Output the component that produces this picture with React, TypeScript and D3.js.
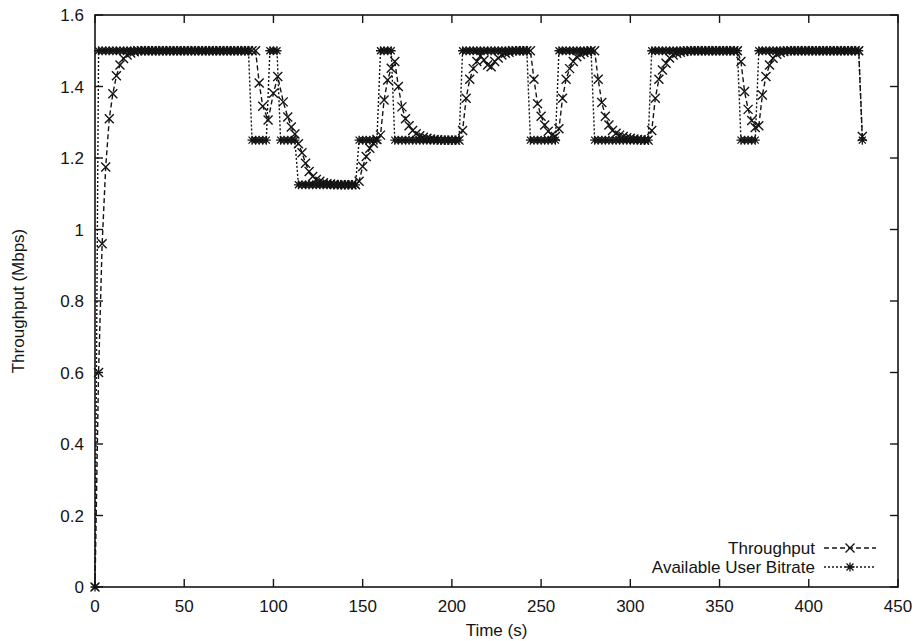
import React from "react";
import * as d3 from "d3";

const xTicks = [0, 50, 100, 150, 200, 250, 300, 350, 400, 450];
const xTickLabels = ["0", "50", "100", "150", "200", "250", "300", "350", "400", "450"];
const yTicks = [0, 0.2, 0.4, 0.6, 0.8, 1.0, 1.2, 1.4, 1.6];
const yTickLabels = ["0", "0.2", "0.4", "0.6", "0.8", "1", "1.2", "1.4", "1.6"];

const seriesNames = ["Throughput", "Available User Bitrate"];

// Available User Bitrate (Mbps), sampled every 2 s from t = 0 to 430
const bitrateTime = [
  0, 2, 4, 6, 8, 10, 12, 14, 16, 18, 20, 22, 24, 26, 28, 30, 32, 34, 36, 38,
  40, 42, 44, 46, 48, 50, 52, 54, 56, 58, 60, 62, 64, 66, 68, 70, 72, 74, 76, 78,
  80, 82, 84, 86, 88, 90, 92, 94, 96, 98, 100, 102, 104, 106, 108, 110, 112, 114, 116, 118,
  120, 122, 124, 126, 128, 130, 132, 134, 136, 138, 140, 142, 144, 146, 148, 150, 152, 154, 156, 158,
  160, 162, 164, 166, 168, 170, 172, 174, 176, 178, 180, 182, 184, 186, 188, 190, 192, 194, 196, 198,
  200, 202, 204, 206, 208, 210, 212, 214, 216, 218, 220, 222, 224, 226, 228, 230, 232, 234, 236, 238,
  240, 242, 244, 246, 248, 250, 252, 254, 256, 258, 260, 262, 264, 266, 268, 270, 272, 274, 276, 278,
  280, 282, 284, 286, 288, 290, 292, 294, 296, 298, 300, 302, 304, 306, 308, 310, 312, 314, 316, 318,
  320, 322, 324, 326, 328, 330, 332, 334, 336, 338, 340, 342, 344, 346, 348, 350, 352, 354, 356, 358,
  360, 362, 364, 366, 368, 370, 372, 374, 376, 378, 380, 382, 384, 386, 388, 390, 392, 394, 396, 398,
  400, 402, 404, 406, 408, 410, 412, 414, 416, 418, 420, 422, 424, 426, 428, 430,
];
const bitrateValue = [
  0,
  // t = 2..86
  1.5, 1.5, 1.5, 1.5, 1.5, 1.5, 1.5, 1.5, 1.5, 1.5,
  1.5, 1.5, 1.5, 1.5, 1.5, 1.5, 1.5, 1.5, 1.5, 1.5,
  1.5, 1.5, 1.5, 1.5, 1.5, 1.5, 1.5, 1.5, 1.5, 1.5,
  1.5, 1.5, 1.5, 1.5, 1.5, 1.5, 1.5, 1.5, 1.5, 1.5,
  1.5, 1.5, 1.5,
  // t = 88..96
  1.25, 1.25, 1.25, 1.25, 1.25,
  // t = 98..102
  1.5, 1.5, 1.5,
  // t = 104..112
  1.25, 1.25, 1.25, 1.25, 1.25,
  // t = 114..146
  1.125, 1.125, 1.125, 1.125, 1.125, 1.125, 1.125, 1.125, 1.125, 1.125,
  1.125, 1.125, 1.125, 1.125, 1.125, 1.125, 1.125,
  // t = 148..158
  1.25, 1.25, 1.25, 1.25, 1.25, 1.25,
  // t = 160..166
  1.5, 1.5, 1.5, 1.5,
  // t = 168..204
  1.25, 1.25, 1.25, 1.25, 1.25, 1.25, 1.25, 1.25, 1.25, 1.25,
  1.25, 1.25, 1.25, 1.25, 1.25, 1.25, 1.25, 1.25, 1.25,
  // t = 206..242
  1.5, 1.5, 1.5, 1.5, 1.5, 1.5, 1.5, 1.5, 1.5, 1.5,
  1.5, 1.5, 1.5, 1.5, 1.5, 1.5, 1.5, 1.5, 1.5,
  // t = 244..258
  1.25, 1.25, 1.25, 1.25, 1.25, 1.25, 1.25, 1.25,
  // t = 260..278
  1.5, 1.5, 1.5, 1.5, 1.5, 1.5, 1.5, 1.5, 1.5, 1.5,
  // t = 280..310
  1.25, 1.25, 1.25, 1.25, 1.25, 1.25, 1.25, 1.25, 1.25, 1.25,
  1.25, 1.25, 1.25, 1.25, 1.25, 1.25,
  // t = 312..360
  1.5, 1.5, 1.5, 1.5, 1.5, 1.5, 1.5, 1.5, 1.5, 1.5,
  1.5, 1.5, 1.5, 1.5, 1.5, 1.5, 1.5, 1.5, 1.5, 1.5,
  1.5, 1.5, 1.5, 1.5, 1.5,
  // t = 362..370
  1.25, 1.25, 1.25, 1.25, 1.25,
  // t = 372..428
  1.5, 1.5, 1.5, 1.5, 1.5, 1.5, 1.5, 1.5, 1.5, 1.5,
  1.5, 1.5, 1.5, 1.5, 1.5, 1.5, 1.5, 1.5, 1.5, 1.5,
  1.5, 1.5, 1.5, 1.5, 1.5, 1.5, 1.5, 1.5, 1.5,
  // t = 430
  1.25,
];

// Measured throughput (Mbps)
const throughputTime = [
  0, 2, 4, 6, 8, 10, 12, 14, 16, 18, 20, 22,
  24, 26, 28, 30, 32, 34, 36, 38, 40, 42, 44, 46, 48, 50, 52, 54, 56, 58, 60, 62, 64, 66,
  68, 70, 72, 74, 76, 78, 80, 82, 84, 86, 88, 90,
  92, 94, 97, 100, 102.4, 105.5, 108, 110, 112, 114, 116, 118, 120, 122, 124, 126, 128, 130, 132, 134,
  136, 138, 140, 142, 144, 146,
  148, 150, 152, 154, 156, 158, 160, 162, 164, 166, 168, 170, 172, 174, 176, 178, 180, 182, 184, 186,
  188, 190, 192, 194, 196, 198, 200, 202, 204,
  206, 208, 210, 212, 214, 216, 218, 220, 222, 224, 226, 228, 230, 232, 234, 236, 238, 240, 242, 244,
  246, 248, 250, 252, 254, 256, 258, 260, 262, 264, 266, 268, 270, 272, 274, 276, 278, 280,
  282, 284, 286, 288, 290, 292, 294, 296, 298, 300, 302, 304, 306, 308, 310,
  312, 314, 316, 318, 320, 322, 324, 326, 328, 330, 332, 334, 336, 338, 340, 342, 344, 346, 348, 350,
  352, 354, 356, 358, 360,
  362, 364, 366, 368, 370, 372, 374, 376, 378, 380, 382, 384, 386, 388, 390, 392, 394, 396, 398, 400,
  402, 404, 406, 408, 410, 412, 414, 416, 418, 420, 422, 424, 426, 428, 430,
];
const throughputValue = [
  0, 0.6, 0.96, 1.175, 1.31, 1.38, 1.43, 1.46, 1.478, 1.488, 1.494, 1.497,
  1.5, 1.5, 1.5, 1.5, 1.5, 1.5, 1.5, 1.5, 1.5, 1.5, 1.5, 1.5, 1.5, 1.5, 1.5, 1.5, 1.5, 1.5, 1.5, 1.5, 1.5, 1.5,
  1.5, 1.5, 1.5, 1.5, 1.5, 1.5, 1.5, 1.5, 1.5, 1.5, 1.5, 1.5,
  1.41, 1.345, 1.306, 1.381, 1.428, 1.357, 1.315, 1.287, 1.267, 1.24, 1.215, 1.185, 1.162, 1.148, 1.14, 1.135,
  1.131, 1.128, 1.127, 1.126,
  1.125, 1.125, 1.125, 1.125, 1.125, 1.125,
  1.135, 1.176, 1.204, 1.227, 1.241, 1.252, 1.264, 1.362, 1.418, 1.451, 1.47, 1.4, 1.343, 1.31, 1.29, 1.277,
  1.268, 1.262, 1.258, 1.255,
  1.253, 1.252, 1.251, 1.25, 1.25, 1.25, 1.25, 1.25, 1.25,
  1.277, 1.367, 1.42, 1.45, 1.47, 1.485, 1.474, 1.46, 1.455, 1.47, 1.48, 1.488, 1.493, 1.496, 1.5, 1.5,
  1.5, 1.5, 1.5, 1.5,
  1.42, 1.352, 1.317, 1.292, 1.275, 1.264, 1.26, 1.282, 1.367, 1.42, 1.45, 1.47, 1.483, 1.49, 1.495, 1.498,
  1.5, 1.5,
  1.42, 1.355, 1.317, 1.292, 1.277, 1.269, 1.264, 1.26, 1.257, 1.255, 1.253, 1.252, 1.251, 1.25, 1.25,
  1.277, 1.367, 1.42, 1.446, 1.465, 1.48, 1.488, 1.493, 1.496, 1.498, 1.5, 1.5, 1.5, 1.5, 1.5, 1.5, 1.5, 1.5,
  1.5, 1.5, 1.5, 1.5, 1.5, 1.5, 1.5,
  1.47, 1.386, 1.336, 1.305, 1.285, 1.29, 1.376, 1.428, 1.46, 1.479, 1.49, 1.495, 1.498, 1.5, 1.5, 1.5,
  1.5, 1.5, 1.5, 1.5, 1.5, 1.5, 1.5, 1.5, 1.5, 1.5, 1.5, 1.5, 1.5, 1.5, 1.5, 1.5, 1.5, 1.5, 1.26,
];

const FONT = "'Liberation Sans', Arial, Helvetica, sans-serif";
const INK = "#141414";
const xMark = "M-4.5,-4.5L4.5,4.5M-4.5,4.5L4.5,-4.5";
const starMark = "M-4.5,0L4.5,0M0,-4.5L0,4.5M-3.5,-3.5L3.5,3.5M-3.5,3.5L3.5,-3.5";

export default function App() {
  const W = 918;
  const H = 641;
  const left = 95, right = 898, top = 15, bottom = 587;
  const x = d3.scaleLinear().domain([0, 450]).range([left, right]);
  const y = d3.scaleLinear().domain([0, 1.6]).range([bottom, top]);

  const bitrate: [number, number][] = bitrateTime.map((t, i) => [t, bitrateValue[i]]);
  const throughput: [number, number][] = throughputTime.map((t, i) => [t, throughputValue[i]]);

  const line = d3
    .line<[number, number]>()
    .x((d) => x(d[0]))
    .y((d) => y(d[1]));

  const tickLen = 8;

  return (
    <svg
      width={W}
      height={H}
      viewBox={`0 0 ${W} ${H}`}
      style={{ position: "absolute", left: 0, top: 0, background: "#fff" }}
      fontFamily={FONT}
    >
      <rect x={0} y={0} width={W} height={H} fill="#fff" />

      {/* ticks, all four sides, pointing inward */}
      {xTicks.map((t) => (
        <g key={"xt" + t} stroke={INK} strokeWidth={1.4}>
          <line x1={x(t)} x2={x(t)} y1={bottom} y2={bottom - tickLen} />
          <line x1={x(t)} x2={x(t)} y1={top} y2={top + tickLen} />
        </g>
      ))}
      {yTicks.map((v) => (
        <g key={"yt" + v} stroke={INK} strokeWidth={1.4}>
          <line x1={left} x2={left + tickLen} y1={y(v)} y2={y(v)} />
          <line x1={right} x2={right - tickLen} y1={y(v)} y2={y(v)} />
        </g>
      ))}

      {/* tick labels */}
      {xTicks.map((t, i) => (
        <text key={"xl" + t} x={x(t)} y={612} textAnchor="middle" fontSize={17} fill={INK}>
          {xTickLabels[i]}
        </text>
      ))}
      {yTicks.map((v, i) => (
        <text key={"yl" + v} x={84} y={y(v) + 6} textAnchor="end" fontSize={17} fill={INK}>
          {yTickLabels[i]}
        </text>
      ))}

      {/* axis titles */}
      <text x={(left + right) / 2} y={636} textAnchor="middle" fontSize={17} fill={INK}>
        Time (s)
      </text>
      <text
        transform={`translate(24, ${(top + bottom) / 2}) rotate(-90)`}
        textAnchor="middle"
        fontSize={17}
        fill={INK}
      >
        Throughput (Mbps)
      </text>

      {/* Available User Bitrate: dotted line with star markers */}
      <path d={line(bitrate) || ""} fill="none" stroke={INK} strokeWidth={1.4} strokeDasharray="2,2" />
      {bitrate.map((d, i) => (
        <path
          key={"b" + i}
          d={starMark}
          transform={`translate(${x(d[0])},${y(d[1])})`}
          stroke={INK}
          strokeWidth={1.3}
          fill="none"
        />
      ))}

      {/* Throughput: dashed line with x markers */}
      <path d={line(throughput) || ""} fill="none" stroke={INK} strokeWidth={1.4} strokeDasharray="5,3" />
      {throughput.map((d, i) => (
        <path
          key={"t" + i}
          d={xMark}
          transform={`translate(${x(d[0])},${y(d[1])})`}
          stroke={INK}
          strokeWidth={1.4}
          fill="none"
        />
      ))}

      {/* frame */}
      <rect x={left} y={top} width={right - left} height={bottom - top} fill="none" stroke={INK} strokeWidth={1.6} />

      {/* legend */}
      <g fontSize={17} fill={INK}>
        <text x={815} y={554} textAnchor="end">{seriesNames[0]}</text>
        <line x1={824} x2={876} y1={548} y2={548} stroke={INK} strokeWidth={1.4} strokeDasharray="5,3" />
        <path d={xMark} transform="translate(850,548)" stroke={INK} strokeWidth={1.4} fill="none" />
        <text x={815} y={573} textAnchor="end">{seriesNames[1]}</text>
        <line x1={824} x2={876} y1={567} y2={567} stroke={INK} strokeWidth={1.4} strokeDasharray="2,2" />
        <path d={starMark} transform="translate(850,567)" stroke={INK} strokeWidth={1.3} fill="none" />
      </g>
    </svg>
  );
}
